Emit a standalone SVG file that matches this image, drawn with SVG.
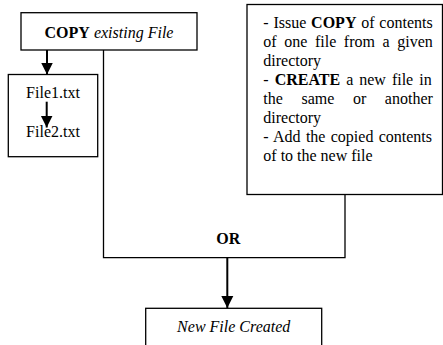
<svg xmlns="http://www.w3.org/2000/svg" width="443" height="345" viewBox="0 0 443 345">
<style>
.box{fill:#fff;stroke:#000;stroke-width:1.3}
.ln{fill:none;stroke:#000;stroke-width:1.3}
.ar{fill:none;stroke:#000;stroke-width:2}
.t{font-family:'Liberation Serif','Times New Roman',Times,serif;font-size:16px;fill:#000}
.b{font-weight:bold}
.i{font-style:italic}
</style>
<defs>
<marker id="ah" markerUnits="userSpaceOnUse" markerWidth="14" markerHeight="14" viewBox="0 0 14 14" refX="12" refY="7" orient="auto">
<path d="M0,1 L12,7 L0,13 Z" fill="#000"/>
</marker>
</defs>
<rect width="443" height="345" fill="#fff"/>
<g id="connectors">
<line class="ar" x1="47" y1="50" x2="47" y2="74.5" marker-end="url(#ah)"/>
<polyline class="ln" points="103.5,50 103.5,257.7 345,257.7 345,194.5"/>
<line class="ar" x1="227.3" y1="257.7" x2="227.3" y2="308" marker-end="url(#ah)"/>
</g>
<g id="copy-existing">
<rect class="box" x="21" y="12.7" width="176" height="37.3"/>
<text class="t" font-family="Liberation Serif" x="109" y="37.5" text-anchor="middle"><tspan class="b">COPY</tspan> <tspan class="i">existing File</tspan></text>
</g>
<g id="files">
<rect class="box" x="8.3" y="74.5" width="89.4" height="82.2"/>
<text class="t" font-family="Liberation Serif" x="53" y="98" text-anchor="middle">File1.txt</text>
<line class="ar" x1="46.7" y1="101.7" x2="46.7" y2="127.5" marker-end="url(#ah)"/>
<text class="t" font-family="Liberation Serif" x="53" y="136.5" text-anchor="middle">File2.txt</text>
</g>
<g id="description">
<rect class="box" x="247" y="4.5" width="195.5" height="190"/>
<text class="t" font-family="Liberation Serif" x="263.3" y="28" word-spacing="0.8">- Issue <tspan class="b">COPY</tspan> of contents</text>
<text class="t" font-family="Liberation Serif" x="263.3" y="47" word-spacing="3.6">of one file from a given</text>
<text class="t" font-family="Liberation Serif" x="263.3" y="66">directory</text>
<text class="t" font-family="Liberation Serif" x="263.3" y="85" word-spacing="2">- <tspan class="b">CREATE</tspan> a new file in</text>
<text class="t" font-family="Liberation Serif" x="263.3" y="104" word-spacing="14.6">the same or another</text>
<text class="t" font-family="Liberation Serif" x="263.3" y="123">directory</text>
<text class="t" font-family="Liberation Serif" x="263.3" y="142" word-spacing="1.3">- Add the copied contents</text>
<text class="t" font-family="Liberation Serif" x="263.3" y="161">of to the new file</text>
</g>
<g id="or-label">
<text class="t b" font-family="Liberation Serif" x="228.3" y="243.5" text-anchor="middle">OR</text>
</g>
<g id="new-file">
<rect class="box" x="145.7" y="308.3" width="176" height="50"/>
<text class="t i" font-family="Liberation Serif" x="233.7" y="331.7" text-anchor="middle">New File Created</text>
</g>
</svg>
